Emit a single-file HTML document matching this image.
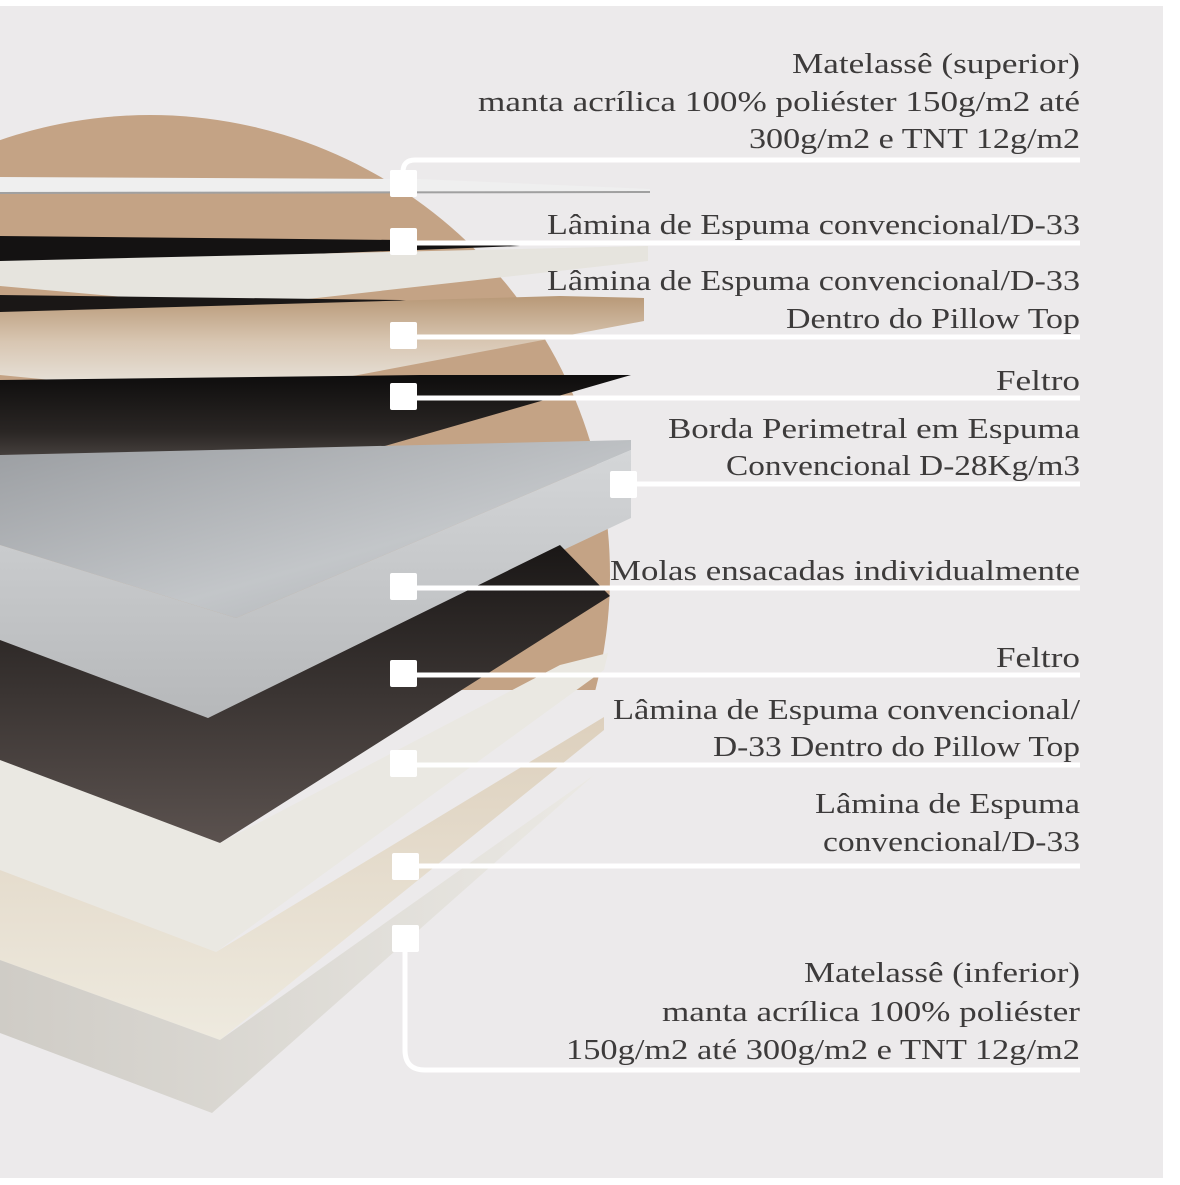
<!DOCTYPE html>
<html><head><meta charset="utf-8"><style>
html,body{margin:0;padding:0;background:#fff;}
svg{display:block}
text{font-family:"Liberation Serif","DejaVu Serif",serif;fill:#3d3b3b;font-size:28px}
</style></head><body>
<svg width="1180" height="1185" viewBox="0 0 1180 1185" xmlns="http://www.w3.org/2000/svg">
<defs>
<clipPath id="cc"><rect x="0" y="0" width="1180" height="690"/></clipPath>
<linearGradient id="f2" x1="0" y1="0" x2="0" y2="1"><stop offset="0" stop-color="#b89877"/><stop offset="0.45" stop-color="#d8c6b2"/><stop offset="1" stop-color="#ecebe6"/></linearGradient>
<linearGradient id="fe1" x1="0" y1="0" x2="0" y2="1"><stop offset="0" stop-color="#0e0d0d"/><stop offset="0.5" stop-color="#2a2624"/><stop offset="1" stop-color="#6b6360"/></linearGradient>
<linearGradient id="sp" x1="0" y1="0" x2="1" y2="1"><stop offset="0" stop-color="#9a9da1"/><stop offset="0.6" stop-color="#c3c6c9"/><stop offset="1" stop-color="#a7aaad"/></linearGradient>
<linearGradient id="sps" x1="0" y1="0" x2="0" y2="1"><stop offset="0" stop-color="#d4d6d8"/><stop offset="1" stop-color="#b6b8ba"/></linearGradient>
<linearGradient id="fe2" x1="0" y1="0" x2="0" y2="1"><stop offset="0" stop-color="#1a1716"/><stop offset="1" stop-color="#5b524f"/></linearGradient>
<linearGradient id="f4" x1="0" y1="0" x2="0" y2="1"><stop offset="0" stop-color="#ddd0bd"/><stop offset="1" stop-color="#eeeadf"/></linearGradient>
<linearGradient id="f5" x1="0" y1="0" x2="1" y2="0"><stop offset="0" stop-color="#cfccc6"/><stop offset="1" stop-color="#ebe9e4"/></linearGradient>
</defs>
<rect x="0" y="6" width="1163" height="1172" fill="#eceaeb"/>
<circle cx="150" cy="575" r="460" fill="#c4a385" clip-path="url(#cc)"/>
<!-- matelasse top -->
<polygon points="0,177 420,179 650,189 650,192 0,192" fill="#efefef"/>
<line x1="0" y1="193" x2="650" y2="192" stroke="#a0a0a0" stroke-width="2"/>
<!-- dark band -->
<polygon points="0,236 400,240 520,246 0,266" fill="#141212"/>
<!-- foam1 -->
<polygon points="0,261 648,246 648,261 236,307 0,286" fill="#e6e4de"/>
<polygon points="0,295 400,300 520,310 236,320 0,330" fill="#1a1716"/>
<!-- foam2 -->
<polygon points="0,312 560,296 644,298 644,321 236,398 0,375" fill="url(#f2)"/>
<!-- feltro1 -->
<polygon points="0,380 420,375 631,375 236,489 0,461" fill="url(#fe1)"/>
<!-- springs -->
<polygon points="0,455 631,440 631,450 236,618 0,545" fill="url(#sp)"/>
<polygon points="0,545 236,618 631,450 631,518 208,718 0,650" fill="url(#sps)"/>
<!-- feltro2 -->
<polygon points="0,640 208,718 560,545 610,596 220,843 0,790" fill="url(#fe2)"/>
<!-- foam3 -->
<polygon points="0,760 220,843 560,665 608,653 604,670 216,952 0,870" fill="#eae8e2"/>
<!-- foam4 -->
<polygon points="0,870 216,952 604,717 604,730 220,1040 0,960" fill="url(#f4)"/>
<!-- foam5 -->
<polygon points="0,960 220,1040 594,775 212,1113 0,1033" fill="url(#f5)"/>
<!-- connectors -->
<g stroke="#fff" stroke-width="5" fill="none">
<path d="M403,183 V172 Q403,160 415,160 H1080"/>
<line x1="403" y1="243" x2="1080" y2="243"/>
<line x1="403" y1="337" x2="1080" y2="337"/>
<line x1="403" y1="398" x2="1080" y2="398"/>
<line x1="623" y1="484" x2="1080" y2="484"/>
<line x1="403" y1="588" x2="1080" y2="588"/>
<line x1="403" y1="675" x2="1080" y2="675"/>
<line x1="403" y1="765" x2="1080" y2="765"/>
<line x1="405" y1="866" x2="1080" y2="866"/>
<path d="M405,938 V1050 Q405,1070 425,1070 H1080"/>
</g>
<g fill="#fff">
<rect x="390" y="170" width="27" height="27" rx="2"/>
<rect x="390" y="228" width="27" height="27" rx="2"/>
<rect x="390" y="322" width="27" height="27" rx="2"/>
<rect x="390" y="383" width="27" height="27" rx="2"/>
<rect x="610" y="471" width="27" height="27" rx="2"/>
<rect x="390" y="573" width="27" height="27" rx="2"/>
<rect x="390" y="660" width="27" height="27" rx="2"/>
<rect x="390" y="750" width="27" height="27" rx="2"/>
<rect x="392" y="853" width="27" height="27" rx="2"/>
<rect x="392" y="925" width="27" height="27" rx="2"/>
</g>
<g text-anchor="end">
<text x="1080" y="73" textLength="288" lengthAdjust="spacingAndGlyphs">Matelassê (superior)</text>
<text x="1080" y="111" textLength="602" lengthAdjust="spacingAndGlyphs">manta acrílica 100% poliéster 150g/m2 até</text>
<text x="1080" y="148" textLength="331" lengthAdjust="spacingAndGlyphs">300g/m2 e TNT 12g/m2</text>
<text x="1080" y="234" textLength="533" lengthAdjust="spacingAndGlyphs">Lâmina de Espuma convencional/D-33</text>
<text x="1080" y="290" textLength="533" lengthAdjust="spacingAndGlyphs">Lâmina de Espuma convencional/D-33</text>
<text x="1080" y="328" textLength="294" lengthAdjust="spacingAndGlyphs">Dentro do Pillow Top</text>
<text x="1080" y="390" textLength="84" lengthAdjust="spacingAndGlyphs">Feltro</text>
<text x="1080" y="438" textLength="412" lengthAdjust="spacingAndGlyphs">Borda Perimetral em Espuma</text>
<text x="1080" y="475" textLength="354" lengthAdjust="spacingAndGlyphs">Convencional D-28Kg/m3</text>
<text x="1080" y="580" textLength="470" lengthAdjust="spacingAndGlyphs">Molas ensacadas individualmente</text>
<text x="1080" y="667" textLength="84" lengthAdjust="spacingAndGlyphs">Feltro</text>
<text x="1080" y="719" textLength="467" lengthAdjust="spacingAndGlyphs">Lâmina de Espuma convencional/</text>
<text x="1080" y="756" textLength="367" lengthAdjust="spacingAndGlyphs">D-33 Dentro do Pillow Top</text>
<text x="1080" y="813" textLength="265" lengthAdjust="spacingAndGlyphs">Lâmina de Espuma</text>
<text x="1080" y="851" textLength="257" lengthAdjust="spacingAndGlyphs">convencional/D-33</text>
<text x="1080" y="982" textLength="276" lengthAdjust="spacingAndGlyphs">Matelassê (inferior)</text>
<text x="1080" y="1021" textLength="418" lengthAdjust="spacingAndGlyphs">manta acrílica 100% poliéster</text>
<text x="1080" y="1059" textLength="514" lengthAdjust="spacingAndGlyphs">150g/m2 até 300g/m2 e TNT 12g/m2</text>
</g>
</svg>
</body></html>
